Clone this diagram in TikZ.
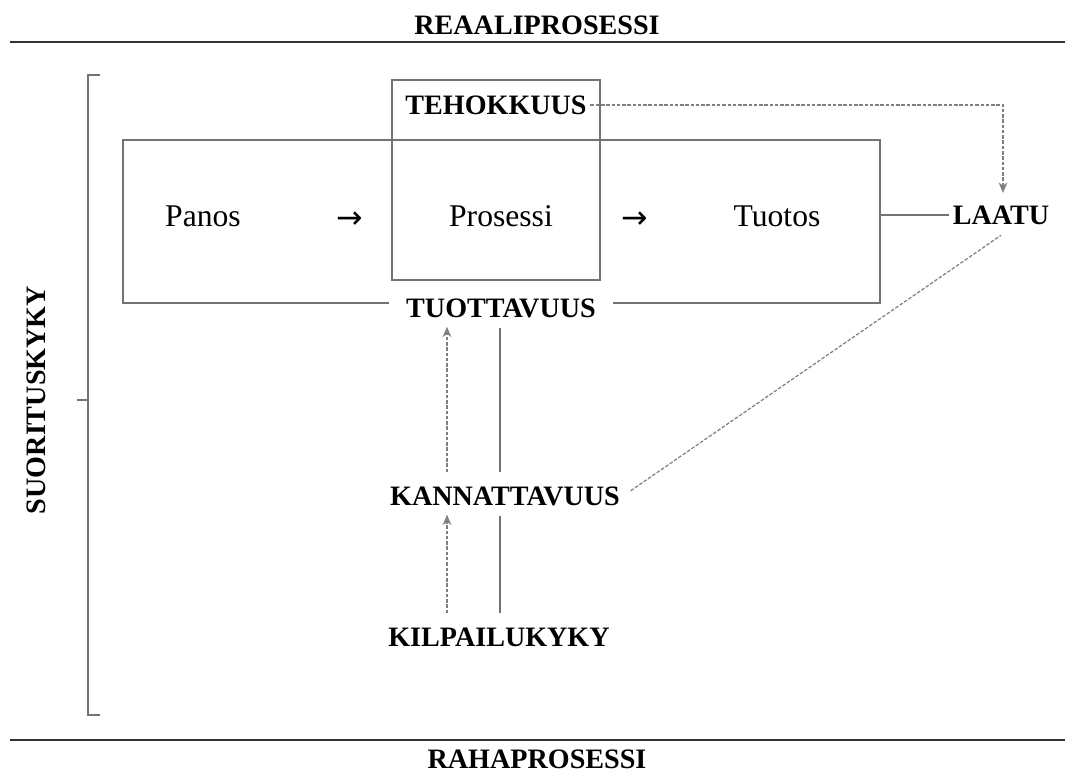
\documentclass[tikz,border=0pt]{standalone}
\usepackage{fontspec}
\setmainfont{Liberation Serif}
\newfontfamily\nuolifont{DejaVu Sans}
\usetikzlibrary{arrows.meta}

\tikzset{
  otsikko/.style={font=\fontsize{16}{16}\selectfont\bfseries, inner sep=2pt},
  teksti/.style={font=\fontsize{18}{18}\selectfont, inner sep=2pt},
  nuoli/.style={font=\fontsize{18}{18}\selectfont\nuolifont, inner sep=2pt},
  laatikko/.style={draw=black!55, line width=0.9pt},
  katko/.style={draw=black!50, dashed, dash pattern=on 2pt off 1pt, line width=0.7pt},
  kiintea/.style={draw=black!55, line width=0.8pt},
  karki/.style={-{Stealth[length=6pt,width=5pt]}}
}

\begin{document}
\begin{tikzpicture}[x=0.02cm, y=-0.02cm]
        \useasboundingbox (0,0) rectangle (1075,774);

        % reaali- ja rahaprosessin rajat
        \node[otsikko] (reaali) at (537,25) {REAALIPROSESSI};
        \node[otsikko] (raha) at (537,759) {RAHAPROSESSI};
        \draw[line width=0.9pt, black!80] (10,42) -- (1065,42);
        \draw[line width=0.9pt, black!80] (10,740) -- (1065,740);

        % sulku ja suorituskyky
        \draw[kiintea] (100,75) -- (88,75) -- (88,715) -- (100,715);
        \draw[kiintea] (88,400) -- (77,400);
        \node[otsikko, rotate=90] (suoritus) at (36,400) {SUORITUSKYKY};

        % laatikot
        \coordinate (isoA) at (123,140);
        \coordinate (isoB) at (880,303);
        \draw[laatikko] (isoA) rectangle (isoB);
        \draw[laatikko] (392,80) rectangle (600,280);

        \node[otsikko] (teho) at (496,105) {TEHOKKUUS};
        \node[teksti] (panos) at (203,216) {Panos};
        \node[nuoli] (nuoli1) at (350,220) {→};
        \node[teksti] (prosessi) at (501,216) {Prosessi};
        \node[nuoli] (nuoli2) at (635,220) {→};
        \node[teksti] (tuotos) at (777,216) {Tuotos};
        \node[otsikko] (laatu) at (1001,215) {LAATU};

        \node[otsikko, fill=white, inner xsep=10pt] (tuott) at (501,308) {TUOTTAVUUS};
        \node[otsikko] (kann) at (505,496) {KANNATTAVUUS};
        \node[otsikko] (kilp) at (499,637) {KILPAILUKYKY};

        % yhteydet
        \coordinate (vasen) at (447,0);
        \coordinate (oikea) at (500,0);
        \coordinate (kulma) at (1003,0);

        \draw[kiintea] (isoB |- laatu) -- (laatu.west);
        \draw[katko, karki, shorten >=5pt] (teho.east) -- (teho.east -| kulma) -- (laatu.north -| kulma);
        \draw[katko] ([xshift=4pt,yshift=3pt]kann.east) -- ([yshift=-4pt]laatu.south);

        \draw[katko, karki, shorten <=6pt, shorten >=3pt] (kann.north -| vasen) -- (tuott.south -| vasen);
        \draw[kiintea, shorten <=6pt, shorten >=4pt] (kann.north -| oikea) -- (tuott.south -| oikea);
        \draw[katko, karki, shorten <=6pt, shorten >=3pt] (kilp.north -| vasen) -- (kann.south -| vasen);
        \draw[kiintea, shorten <=6pt, shorten >=4pt] (kilp.north -| oikea) -- (kann.south -| oikea);
\end{tikzpicture}
\end{document}
